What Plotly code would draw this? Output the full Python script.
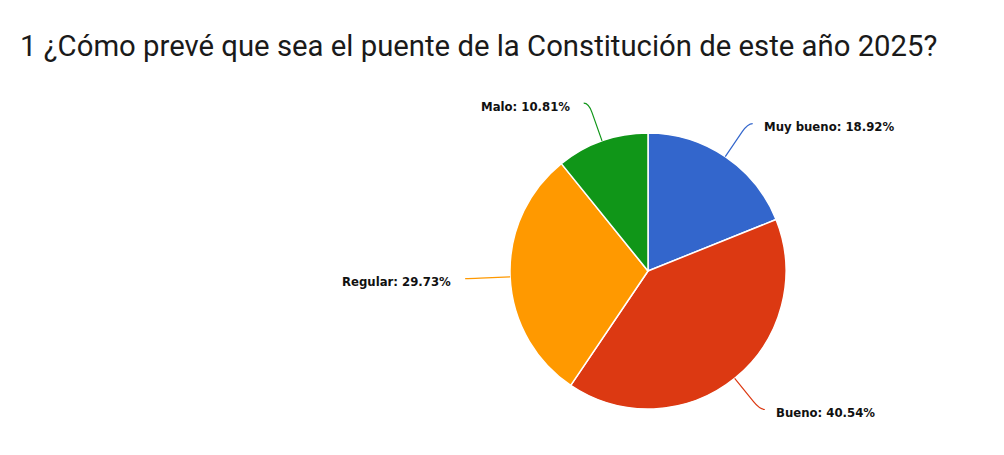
import math
import plotly.graph_objects as go

labels = ["Muy bueno", "Bueno", "Regular", "Malo"]
percent = [18.92, 40.54, 29.73, 10.81]
colors = ["#3366CC", "#DC3912", "#FF9900", "#109618"]
title_text = "1 ¿Cómo prevé que sea el puente de la Constitución de este año 2025?"

# page body has an 8px margin; figure sized to fit the window
W, H = 996, 447
CX, CY, R = 640, 263, 138
ELBOW = 40


def fx(x):
    return x / W


def fy(y):
    return 1 - y / H


fig = go.Figure(
    go.Pie(
        labels=labels,
        values=percent,
        sort=False,
        direction="clockwise",
        rotation=0,
        marker=dict(colors=colors, line=dict(color="white", width=1.5)),
        textinfo="none",
        hoverinfo="label+percent",
        showlegend=False,
        domain=dict(x=[fx(CX - R), fx(CX + R)], y=[fy(CY + R), fy(CY - R)]),
    )
)

shapes = []
annotations = []
total = sum(percent)
cum = 0.0
for lab, v, col in zip(labels, percent, colors):
    mid = (cum + v / 2) / total * 2 * math.pi
    cum += v
    s, c = math.sin(mid), math.cos(mid)
    sx, sy = CX + R * s, CY - R * c
    ax_, ay_ = CX + (R + ELBOW - 10) * s, CY - (R + ELBOW - 10) * c
    ex, ey = CX + (R + ELBOW) * s, CY - (R + ELBOW) * c
    side = 1 if s > 0 else -1
    endx = ex + side * 5
    path = (
        f"M {fx(sx)} {fy(sy)} L {fx(ax_)} {fy(ay_)} "
        f"Q {fx(ex)} {fy(ey)} {fx(endx)} {fy(ey)}"
    )
    shapes.append(
        dict(type="path", path=path, xref="paper", yref="paper",
             line=dict(color=col, width=1.2))
    )
    gap = 14 if side > 0 else 17
    annotations.append(
        dict(
            x=fx(ex + side * gap), y=fy(ey + 3), xref="paper", yref="paper",
            text=f"<b>{lab}: {v:.2f}%</b>", showarrow=False,
            xanchor="left" if side > 0 else "right", yanchor="middle",
            font=dict(family="DejaVu Sans Condensed", size=13, color="#111111"),
        )
    )

annotations.append(
    dict(
        x=fx(10), y=fy(38.5), xref="paper", yref="paper", text=title_text,
        showarrow=False, xanchor="left", yanchor="middle",
        font=dict(family="Roboto", size=29.3, color="#1a1a1a"),
    )
)

fig.update_layout(
    width=W, height=H,
    margin=dict(l=0, r=0, t=0, b=0),
    paper_bgcolor="white", plot_bgcolor="white",
    shapes=shapes, annotations=annotations,
)

fig.write_html("out.html")
